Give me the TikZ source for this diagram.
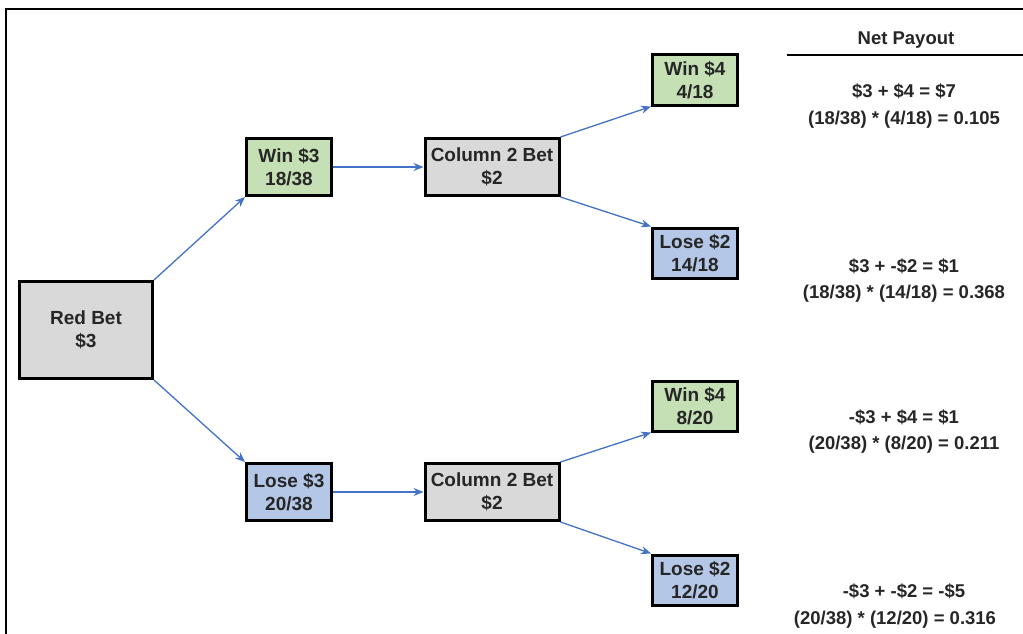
\documentclass[tikz,border=0pt]{standalone}
\usepackage{fontspec}
\setmainfont{Liberation Sans}
\usetikzlibrary{arrows.meta}
\definecolor{boxgrey}{HTML}{D9D9D9}
\definecolor{boxgreen}{HTML}{C5E0B4}
\definecolor{boxblue}{HTML}{B4C7E7}
\definecolor{arrowblue}{HTML}{4472C4}
\tikzset{
  box/.style={draw=black, line width=3pt, align=center, inner sep=0pt,
    font=\fontsize{19}{22.5}\selectfont\bfseries, text=black!85},
  greybox/.style={box, fill=boxgrey},
  winbox/.style={box, fill=boxgreen},
  losebox/.style={box, fill=boxblue},
  small/.style={minimum width=85pt, minimum height=57pt},
  mid/.style={minimum width=134pt, minimum height=57pt},
  outcome/.style={minimum width=85pt, minimum height=50pt},
  link/.style={draw=arrowblue, line width=1.3pt, -{Stealth[length=10pt,width=8pt]}},
  payout/.style={font=\fontsize{18.5}{22}\selectfont\bfseries, text=black!85, align=center},
}
\begin{document}
\begin{tikzpicture}[x=1pt,y=-1pt]
\useasboundingbox (0,0) rectangle (1023,634);
\fill[white] (0,0) rectangle (1023,634);
% outer frame (open to the right and bottom)
\draw[line width=2.5pt, black] (6,640) -- (6,9) -- (1030,9);

% tree nodes
\node[greybox, minimum width=133pt, minimum height=97pt] (red) at (86,330) {Red Bet\\\$3};
\node[winbox, small] (w3) at (289,167) {Win \$3\\18/38};
\node[losebox, small] (l3) at (289,492) {Lose \$3\\20/38};
\node[greybox, mid] (c2a) at (492,167) {Column 2 Bet\\\$2};
\node[greybox, mid] (c2b) at (492,492) {Column 2 Bet\\\$2};
\node[winbox, outcome] (w4a) at (695,80) {Win \$4\\4/18};
\node[losebox, outcome] (l2a) at (695,253) {Lose \$2\\14/18};
\node[winbox, outcome] (w4b) at (695,406) {Win \$4\\8/20};
\node[losebox, outcome] (l2b) at (695,580) {Lose \$2\\12/20};

% connectors
\draw[link] (red.north east) -- (w3.south west);
\draw[link] (red.south east) -- (l3.north west);
\draw[link] (w3.east) -- (c2a.west);
\draw[link] (l3.east) -- (c2b.west);
\draw[link] (c2a.north east) -- (w4a.south west);
\draw[link] (c2a.south east) -- (l2a.north west);
\draw[link] (c2b.north east) -- (w4b.south west);
\draw[link] (c2b.south east) -- (l2b.north west);

% payout column
\node[payout] (head) at (906,40) {Net Payout};
\coordinate (ruleL) at (787,55);
\coordinate (ruleR) at (1023,55);
\draw[line width=1.5pt, black] (ruleL) -- (ruleR);
\node[payout] (p1) at (904,91) {\$3 + \$4 = \$7};
\node[payout] (q1) at (904,120) {(18/38) * (4/18) = 0.105};
\node[payout] (p2) at (904,266) {\$3 + -\$2 = \$1};
\node[payout] (q2) at (904,294) {(18/38) * (14/18) = 0.368};
\node[payout] (p3) at (904,417) {-\$3 + \$4 = \$1};
\node[payout] (q3) at (904,445) {(20/38) * (8/20) = 0.211};
\node[payout] (p4) at (904,591) {-\$3 + -\$2 = -\$5};
\node[payout] (q4) at (895,620) {(20/38) * (12/20) = 0.316};
\end{tikzpicture}
\end{document}
